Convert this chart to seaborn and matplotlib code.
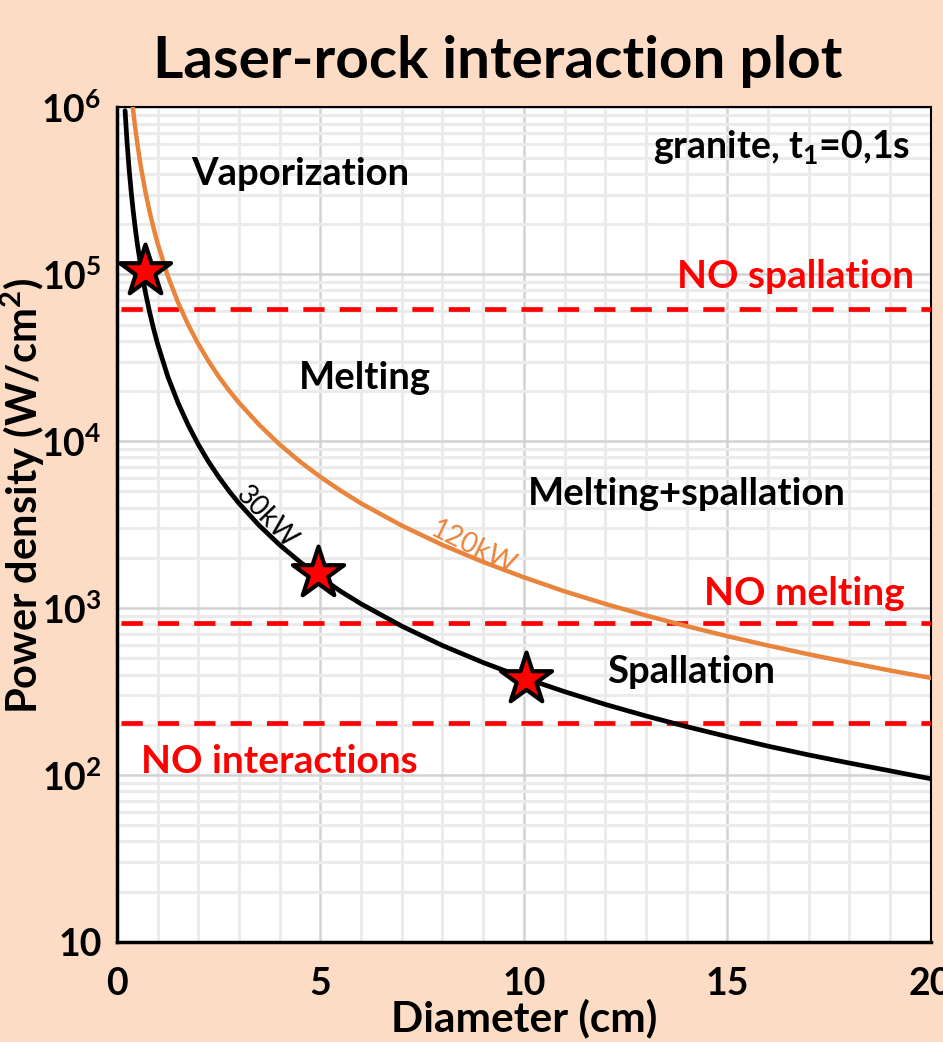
import matplotlib
matplotlib.use("Agg")
import matplotlib.pyplot as plt
import seaborn as sns
import numpy as np
import pandas as pd
from matplotlib.ticker import FixedLocator, MultipleLocator

# ---------------- data ----------------
diameter = [0.2, 0.25, 0.3, 0.35, 0.4, 0.45, 0.5, 0.6, 0.7, 0.8, 0.9, 1.0, 1.25, 1.5, 1.75,
            2.0, 2.25, 2.5, 2.75, 3.0, 3.5, 4.0, 4.5, 5.0, 5.5, 6.0, 7.0, 8.0, 9.0, 10.0,
            11.0, 12.0, 13.0, 14.0, 15.0, 16.0, 17.0, 18.0, 19.0, 20.0]
power_30kw = [955000, 611000, 424000, 312000, 239000, 189000, 153000, 106000, 78000, 59700,
              47200, 38200, 24400, 17000, 12500, 9550, 7540, 6110, 5050, 4240, 3120, 2390,
              1890, 1530, 1260, 1060, 780, 597, 472, 382, 316, 265, 226, 195, 170, 149,
              132, 118, 106, 95]
diameter_120 = [0.39, 0.42, 0.45, 0.5, 0.55, 0.6, 0.7, 0.8, 0.9, 1.0, 1.25, 1.5, 1.75, 2.0,
                2.25, 2.5, 2.75, 3.0, 3.5, 4.0, 4.5, 5.0, 5.5, 6.0, 7.0, 8.0, 9.0, 10.0,
                11.0, 12.0, 13.0, 14.0, 15.0, 16.0, 17.0, 18.0, 19.0, 20.0]
power_120kw = [1000000, 866000, 755000, 611000, 505000, 424000, 312000, 239000, 189000,
               153000, 97800, 67900, 49900, 38200, 30200, 24400, 20200, 17000, 12500, 9550,
               7540, 6110, 5050, 4240, 3120, 2390, 1890, 1530, 1260, 1060, 904, 780, 679,
               597, 529, 472, 423, 382]

star_x = [0.7, 4.95, 10.05]
star_y = [105000, 1620, 375]

threshold_names = ["NO spallation", "NO melting", "NO interactions"]
threshold_values = [62000, 810, 205]

region_labels = ["Vaporization", "Melting", "Melting+spallation", "Spallation"]

ytick_values = [10, 100, 1000, 10000, 100000, 1000000]
ytick_labels = ["10", "$10^2$", "$10^3$", "$10^4$", "$10^5$", "$10^6$"]
xtick_values = [0, 5, 10, 15, 20]
xtick_labels = ["0", "5", "10", "15", "20"]

# ---------------- style ----------------
BG = "#FDDCC5"
sns.set_theme(style="white")
plt.rcParams["font.family"] = ["Lato", "DejaVu Sans"]
plt.rcParams["mathtext.default"] = "regular"
plt.rcParams["text.color"] = "black"
plt.rcParams["axes.labelcolor"] = "black"
plt.rcParams["xtick.color"] = "black"
plt.rcParams["ytick.color"] = "black"

fig = plt.figure(figsize=(9.43, 10.42), dpi=100, facecolor=BG)
ax = fig.add_axes([0.124, 0.096, 0.863, 0.801])
ax.set_facecolor("white")

df30 = pd.DataFrame({"d": diameter, "p": power_30kw})
df120 = pd.DataFrame({"d": diameter_120, "p": power_120kw})
sns.lineplot(data=df120, x="d", y="p", ax=ax, color="#E8843C", lw=3.2, zorder=4)
sns.lineplot(data=df30, x="d", y="p", ax=ax, color="black", lw=3.4, zorder=5)

for v in threshold_values:
    ax.axhline(v, xmin=0.005, xmax=1, color="#FF0000", lw=3.4, ls=(0, (4.5, 3.2)), zorder=3)

sns.scatterplot(x=star_x, y=star_y, ax=ax, marker="*", s=1500, color="#FF0000",
                edgecolor="black", linewidth=3, zorder=7)

ax.set_yscale("log")
ax.set_xlim(0, 20)
ax.set_ylim(10, 1e6)

# ticks and grid
ax.set_xticks(xtick_values, labels=xtick_labels, fontsize=27, fontweight="bold")
ax.set_yticks(ytick_values, labels=ytick_labels, fontsize=27, fontweight="bold")
ax.xaxis.set_minor_locator(MultipleLocator(1))
minor_y = [m * 10 ** e for e in range(1, 6) for m in range(2, 10)]
ax.yaxis.set_minor_locator(FixedLocator(minor_y))
ax.grid(which="minor", color="#EBEBEB", lw=2.2, zorder=0)
ax.grid(which="major", color="#D2D2D2", lw=1.8, zorder=0)
ax.set_axisbelow(True)

ax.tick_params(axis="both", which="major", direction="out", length=7, width=2.5,
               color="black")
ax.tick_params(axis="y", which="major", pad=4)
ax.tick_params(axis="x", which="major", pad=11)
ax.tick_params(axis="both", which="minor", length=0)

for side in ["left", "bottom"]:
    ax.spines[side].set_linewidth(2.5)
    ax.spines[side].set_color("black")
for side in ["top", "right"]:
    ax.spines[side].set_linewidth(1.5)
    ax.spines[side].set_color("black")

ax.set_xlabel("Diameter (cm)", fontsize=30.5, fontweight="bold")
ax.xaxis.set_label_coords(0.5, -0.068)
ax.set_ylabel("Power density (W/cm$^2$)", fontsize=30, fontweight="bold")
ax.yaxis.set_label_coords(-0.086, 0.535)

fig.text(0.528, 0.966, "Laser-rock interaction plot", fontsize=42, fontweight="bold",
         ha="center", va="top")

# region labels
ax.text(4.5, 400000, region_labels[0], fontsize=27.5, fontweight="bold", ha="center", va="center", zorder=8)
ax.text(6.1, 23800, region_labels[1], fontsize=27.5, fontweight="bold", ha="center", va="center", zorder=8)
ax.text(14.0, 4800, region_labels[2], fontsize=27.5, fontweight="bold", ha="center", va="center", zorder=8)
ax.text(14.1, 414, region_labels[3], fontsize=27.5, fontweight="bold", ha="center", va="center", zorder=8)
ax.text(19.5, 580000, "granite, t$_1$=0,1s", fontsize=27, fontweight="bold", ha="right", va="center", zorder=8)

# threshold labels
ax.text(19.6, 97000, threshold_names[0], fontsize=28, fontweight="bold", color="#FF0000",
        ha="right", va="center", zorder=8)
ax.text(19.35, 1230, threshold_names[1], fontsize=28, fontweight="bold", color="#FF0000",
        ha="right", va="center", zorder=8)
ax.text(0.58, 120, threshold_names[2], fontsize=28, fontweight="bold", color="#FF0000",
        ha="left", va="center", zorder=8)

# curve labels
ax.text(3.67, 3500, "30kW", fontsize=20, rotation=-46, ha="center", va="center", zorder=8)
ax.text(8.75, 2300, "120kW", fontsize=20, rotation=-26, color="#E8843C", ha="center", va="center", zorder=8)

fig.savefig("out.png", dpi=100, facecolor=BG)
